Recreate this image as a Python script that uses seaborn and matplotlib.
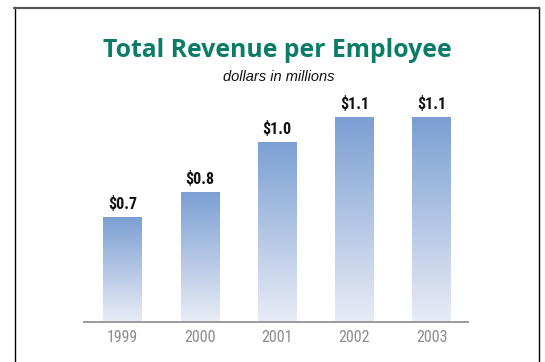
import numpy as np
import pandas as pd
import matplotlib
matplotlib.use("Agg")
import matplotlib.pyplot as plt
from matplotlib import font_manager
from matplotlib.colors import LinearSegmentedColormap
from matplotlib.lines import Line2D
import seaborn as sns

# Revenue per employee, dollars in millions
years = ["1999", "2000", "2001", "2002", "2003"]
revenue = [0.7, 0.8, 1.0, 1.1, 1.1]

title_text = "Total Revenue per Employee"
subtitle_text = "dollars in millions"


def pick_font(candidates):
    names = {f.name for f in font_manager.fontManager.ttflist}
    for c in candidates:
        if c in names:
            return c
    return "DejaVu Sans"


narrow = pick_font(["Liberation Sans Narrow", "Roboto Condensed", "DejaVu Sans Condensed", "Liberation Sans"])
title_font = pick_font(["Open Sans", "Lato", "Noto Sans"])
sub_font = pick_font(["Liberation Sans", "Roboto"])

sns.set_theme(style="white")
plt.rcParams["font.family"] = [narrow, "DejaVu Sans"]

df = pd.DataFrame({"year": years, "revenue": revenue})

fig = plt.figure(figsize=(5.45, 3.62), dpi=100)
W, H = 545, 362
ax = fig.add_axes([84 / W, (H - 322) / H, 384 / W, 205 / H])

sns.barplot(data=df, x="year", y="revenue", ax=ax, width=0.5, color="#7b9fd3",
            saturation=1, errorbar=None)

ymin, ymax = 0.277, 1.1

# vertical gradient fill for each bar, from blue at the top to pale at the baseline
cmap = LinearSegmentedColormap.from_list("bar_grad", ["#e9ecf6", "#7b9fd3"])
grad = np.linspace(0, 1, 256).reshape(-1, 1)
for patch in ax.patches:
    x0 = patch.get_x()
    x1 = x0 + patch.get_width()
    top = patch.get_y() + patch.get_height()
    im = ax.imshow(grad, extent=[x0, x1, ymin, top], origin="lower",
                   aspect="auto", cmap=cmap, zorder=patch.get_zorder())
    im.set_clip_path(patch)
    patch.set_facecolor("none")
    patch.set_edgecolor("none")

ax.set_xlim(-0.5, 4.47)
ax.set_ylim(ymin, ymax)

# value labels above bars
for i, v in enumerate(revenue):
    ax.annotate(f"${v:.1f}", xy=(i, v), xytext=(0, 5.5), textcoords="offset points",
                ha="center", va="baseline", fontsize=11.5, fontweight="bold",
                color="#111111", family=[narrow, "DejaVu Sans"])

ax.set_xlabel("")
ax.set_ylabel("")
ax.set_yticks([])
for s in ["top", "right", "left"]:
    ax.spines[s].set_visible(False)
ax.spines["bottom"].set_color("#9a9a9a")
ax.spines["bottom"].set_linewidth(1.4)
ax.tick_params(axis="x", length=0, pad=6, labelsize=11.5, labelcolor="#8c8c8c")
ax.patch.set_alpha(0)

# heading
fig.text(277.5 / W, 1 - 57.3 / H, title_text, ha="center", va="baseline",
         fontsize=17.8, fontweight="bold", color="#0a7c68", family=[title_font, "DejaVu Sans"])
fig.text(278.5 / W, 1 - 81 / H, subtitle_text, ha="center", va="baseline",
         fontsize=10.5, style="italic", color="#111111", family=[sub_font, "DejaVu Sans"])

# frame around the panel (open at the bottom)
fig.add_artist(Line2D([14.5 / W, 14.5 / W], [0, 1 - 7 / H], transform=fig.transFigure,
                      color="#000000", linewidth=1.0))
fig.add_artist(Line2D([538.5 / W, 538.5 / W], [0, 1 - 7 / H], transform=fig.transFigure,
                      color="#000000", linewidth=1.0))
fig.add_artist(Line2D([14 / W, 539 / W], [1 - 7.8 / H, 1 - 7.8 / H], transform=fig.transFigure,
                      color="#555555", linewidth=1.6))

fig.savefig("out.png", dpi=100, facecolor="white")
